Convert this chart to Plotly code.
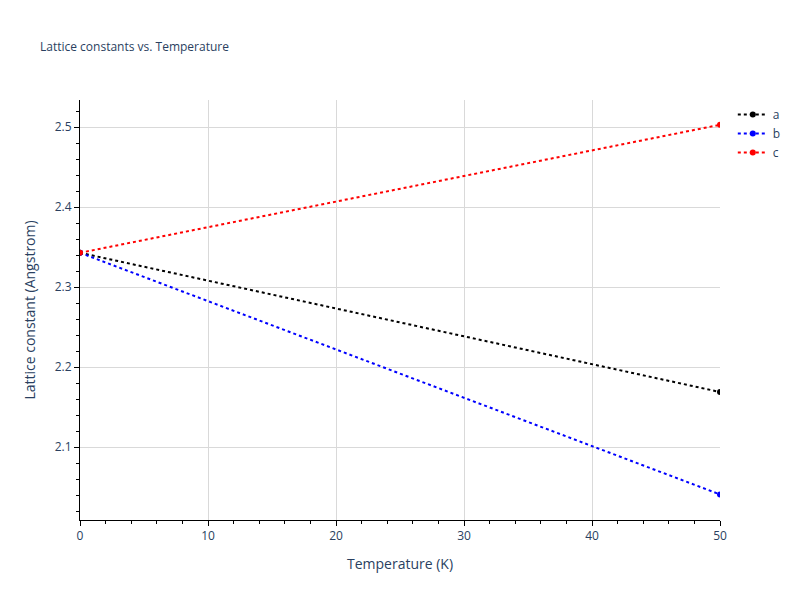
import plotly.graph_objects as go

temps = [0, 50]
a_vals = [2.343, 2.169]
b_vals = [2.343, 2.041]
c_vals = [2.343, 2.503]

fig = go.Figure()
for name, vals, col in [('a', a_vals, 'black'), ('b', b_vals, 'blue'), ('c', c_vals, 'red')]:
    fig.add_trace(go.Scatter(x=temps, y=vals, mode='lines+markers', name=name,
                             line=dict(color=col, dash='dot', width=2),
                             marker=dict(color=col, size=6)))

axis_style = dict(showline=True, linecolor='black', ticks='outside', tickcolor='black',
                  gridcolor='#d9d9d9', zeroline=False,
                  minor=dict(ticks='outside', tickcolor='black', ticklen=3))
fig.update_xaxes(title='Temperature (K)', range=[0, 50], dtick=10, **axis_style)
fig.update_yaxes(title='Lattice constant (Angstrom)', range=[2.009, 2.534], dtick=0.1, **axis_style)
fig.update_layout(
    width=800, height=600,
    title=dict(text='Lattice constants vs. Temperature', font=dict(size=12), x=0.04, y=0.943),
    plot_bgcolor='white', paper_bgcolor='white',
    margin=dict(l=72, r=88, t=92, b=88),
)
fig.write_html("out.html")
